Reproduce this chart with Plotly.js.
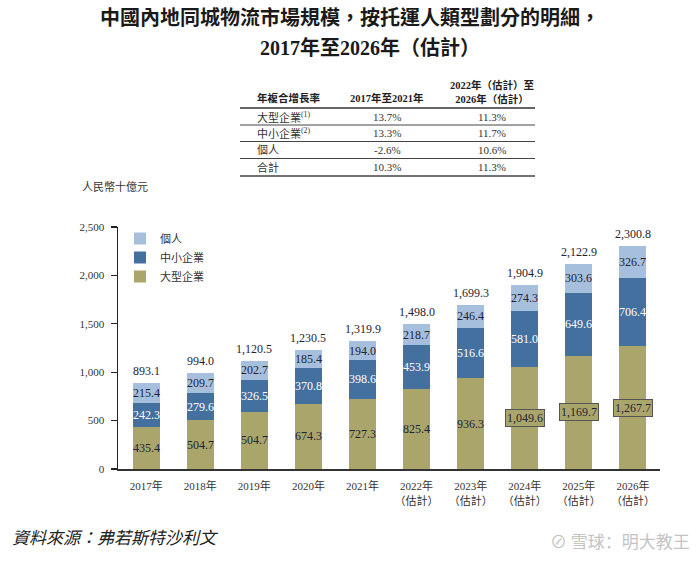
<!DOCTYPE html>
<html>
<head>
<meta charset="utf-8">
<script src="https://cdn.plot.ly/plotly-3.0.1.min.js"></script>
<style>html,body{margin:0;padding:0;background:#fff;}#chart{width:700px;height:563px;}</style>
</head>
<body>
<div id="chart"></div>
<script>
// ---- data ----
const years = ['2017年','2018年','2019年','2020年','2021年','2022年<br>（估計）','2023年<br>（估計）','2024年<br>（估計）','2025年<br>（估計）','2026年<br>（估計）'];
const large = [435.4, 504.7, 591.3, 674.3, 727.3, 825.4, 936.3, 1049.6, 1169.7, 1267.7];
const largeLabels = ['435.4','504.7','504.7','674.3','727.3','825.4','936.3','1,049.6','1,169.7','1,267.7'];
const smeVals = [242.3, 279.6, 326.5, 370.8, 398.6, 453.9, 516.6, 581.0, 649.6, 706.4];
const indiv = [215.4, 209.7, 202.7, 185.4, 194.0, 218.7, 246.4, 274.3, 303.6, 326.7];
const totals = [893.1, 994.0, 1120.5, 1230.5, 1319.9, 1498.0, 1699.3, 1904.9, 2122.9, 2300.8];
const seriesNames = ['大型企業', '中小企業', '個人'];
const titleLines = ['中國內地同城物流市場規模，按托運人類型劃分的明細，', '2017年至2026年（估計）'];
const tableHeader = ['年複合增長率', '2017年至2021年', '2022年（估計）至<br>2026年（估計）'];
const tableRows = ['大型企業<sup>(1)</sup>', '中小企業<sup>(2)</sup>', '個人', '合計'];
const cagr1721 = ['13.7%', '13.3%', '-2.6%', '10.3%'];
const cagr2226 = ['11.3%', '11.7%', '10.6%', '11.3%'];

// ---- styling / layout helpers ----
const SERIF = '"Liberation Serif", "Noto Sans CJK TC", serif';
const C_LARGE = '#aaa66b', C_SME = '#44709f', C_IND = '#a6bfdc';
const L = 118, R = 660, T = 227, B = 469;
const fx = p => (p - L) / (R - L);
const fy = p => (B - p) / (B - T);
const fmt = v => v.toLocaleString('en-US', {minimumFractionDigits: 1, maximumFractionDigits: 1});

const traces = [
  {type: 'bar', name: seriesNames[0], x: years, y: large, marker: {color: C_LARGE}, hoverinfo: 'none'},
  {type: 'bar', name: seriesNames[1], x: years, y: smeVals, marker: {color: C_SME}, hoverinfo: 'none'},
  {type: 'bar', name: seriesNames[2], x: years, y: indiv, marker: {color: C_IND}, hoverinfo: 'none'}
];

const VF = 12;
const ann = [];
years.forEach((yr, i) => {
  const boxed = i >= 7;
  ann.push({x: yr, y: large[i] / 2, xref: 'x', yref: 'y', yanchor: 'middle', text: largeLabels[i], showarrow: false,
    font: {family: SERIF, size: VF, color: '#1e2433'},
    bgcolor: boxed ? C_LARGE : 'rgba(0,0,0,0)', bordercolor: boxed ? '#555' : 'rgba(0,0,0,0)', borderwidth: boxed ? 1 : 0, borderpad: 1});
  ann.push({x: yr, y: large[i] + smeVals[i] / 2, xref: 'x', yref: 'y', yanchor: 'middle', text: fmt(smeVals[i]), showarrow: false,
    font: {family: SERIF, size: VF, color: '#ffffff'}});
  ann.push({x: yr, y: large[i] + smeVals[i] + indiv[i] / 2, xref: 'x', yref: 'y', yanchor: 'middle', text: fmt(indiv[i]), showarrow: false,
    font: {family: SERIF, size: VF, color: '#1e2433'}});
  ann.push({x: yr, y: totals[i], xref: 'x', yref: 'y', text: fmt(totals[i]), showarrow: false, yanchor: 'bottom', yshift: 3,
    font: {family: SERIF, size: VF, color: '#1e2433'}});
});

const P = (px, py, text, xanchor, font) => ({xref: 'paper', yref: 'paper', x: fx(px), y: fy(py), xanchor: xanchor, yanchor: 'middle', text: text, showarrow: false, font: font});

// title
ann.push(P(350, 17, '<b>' + titleLines[0] + '</b>', 'center', {family: SERIF, size: 20, color: '#1a1a1a'}));
ann.push(P(370, 47, '<b>' + titleLines[1] + '</b>', 'center', {family: SERIF, size: 20, color: '#1a1a1a'}));

// table
const shapes = [];
const tLeft = 240, tRight = 535;
const colX = [255, 387, 492];
const hFont = {family: SERIF, size: 10.5, color: '#222'};
const cFont = {family: SERIF, size: 11, color: '#333'};
ann.push(P(colX[0], 98, '<b>' + tableHeader[0] + '</b>', 'left', hFont));
ann.push(P(colX[1], 98, '<b>' + tableHeader[1] + '</b>', 'center', hFont));
ann.push(P(colX[2], 92, '<b>' + tableHeader[2] + '</b>', 'center', hFont));
shapes.push({type: 'line', xref: 'paper', yref: 'paper', x0: fx(tLeft), x1: fx(tRight), y0: fy(108), y1: fy(108), line: {color: '#333', width: 1.5}});
const rowY = [116.5, 133, 150, 167];
const lineY = [125, 141.5, 158.5, 176];
tableRows.forEach((r, i) => {
  ann.push(P(colX[0], rowY[i], r, 'left', cFont));
  ann.push(P(colX[1], rowY[i], cagr1721[i], 'center', cFont));
  ann.push(P(colX[2], rowY[i], cagr2226[i], 'center', cFont));
  shapes.push({type: 'line', xref: 'paper', yref: 'paper', x0: fx(tLeft), x1: fx(tRight), y0: fy(lineY[i]), y1: fy(lineY[i]), line: {color: '#444', width: i === 3 ? 1.5 : 1}});
});

// unit label
ann.push(P(80, 186, '人民幣十億元', 'left', {family: SERIF, size: 11, color: '#333'}));
// source
ann.push(P(10, 538, '資料來源：弗若斯特沙利文', 'left', {family: SERIF, size: 17, color: '#222', style: 'italic'}));
// watermark
ann.push(P(692, 540, '⊘ 雪球：明大教王', 'right', {family: '"Noto Sans CJK SC", sans-serif', size: 17, color: '#c4c4c4'}));

const layout = {
  width: 700, height: 563,
  margin: {l: L, r: 700 - R, t: T, b: 563 - B, pad: 0},
  paper_bgcolor: '#ffffff', plot_bgcolor: '#ffffff',
  barmode: 'stack', bargap: 0.5,
  xaxis: {type: 'category', range: [-0.52, 9.5], showline: true, linecolor: '#333', linewidth: 2,
    ticks: '', showgrid: false, zeroline: false, ticklabelstandoff: 6,
    tickfont: {family: SERIF, size: 11, color: '#333'}, fixedrange: true},
  yaxis: {range: [0, 2500], dtick: 500, tickformat: ',', showline: true, linecolor: '#222', linewidth: 1.5,
    ticks: 'outside', ticklen: 6, tickcolor: '#222', tickwidth: 1.2, showgrid: false, zeroline: false,
    ticklabelstandoff: 4, tickfont: {family: SERIF, size: 11, color: '#333'}, fixedrange: true},
  legend: {traceorder: 'reversed', x: fx(120), xanchor: 'left', y: fy(224), yanchor: 'top',
    font: {family: SERIF, size: 11, color: '#333'}, bgcolor: 'rgba(0,0,0,0)', itemwidth: 30, tracegroupgap: 0},
  annotations: ann,
  shapes: shapes,
  showlegend: true
};

Plotly.newPlot('chart', traces, layout, {displayModeBar: false, staticPlot: true});
</script>
</body>
</html>
